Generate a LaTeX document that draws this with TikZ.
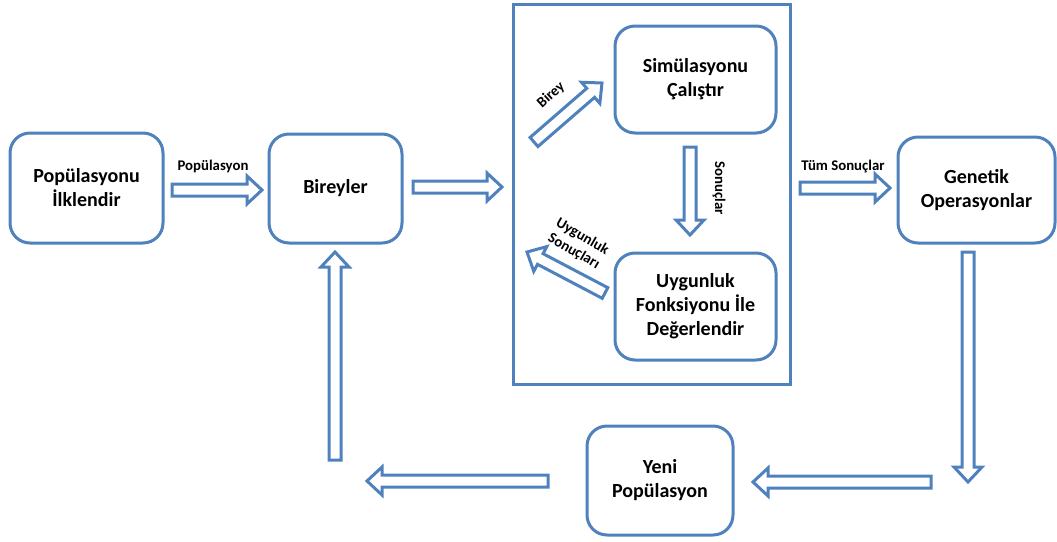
\documentclass[tikz,border=0pt]{standalone}
\usepackage{fontspec}
\setmainfont{Carlito}
\usetikzlibrary{calc}
\definecolor{ofblue}{RGB}{79,129,189}
\tikzset{
  box/.style={draw=ofblue, line width=3pt, rounded corners=20pt, fill=white,
    align=center, font=\fontsize{20}{24}\selectfont\bfseries, inner sep=0pt},
  frame/.style={draw=ofblue, line width=3pt, inner sep=0pt},
  lbl/.style={font=\fontsize{14.8}{17}\selectfont\bfseries, inner sep=0pt, align=center},
  % hollow block arrow from start to target
  hollow/.style={draw=ofblue, line width=3pt, fill=white, line join=miter,
    to path={($(\tikztostart)!6pt!90:(\tikztotarget)$)
      -- ($(\tikztotarget)!15pt!(\tikztostart)!6pt!90:(\tikztotarget)$)
      -- ($(\tikztotarget)!15pt!(\tikztostart)!14pt!90:(\tikztotarget)$)
      -- (\tikztotarget)
      -- ($(\tikztotarget)!15pt!(\tikztostart)!14pt!-90:(\tikztotarget)$)
      -- ($(\tikztotarget)!15pt!(\tikztostart)!6pt!-90:(\tikztotarget)$)
      -- ($(\tikztostart)!6pt!-90:(\tikztotarget)$) -- cycle}}
}
\begin{document}
\begin{tikzpicture}[x=1pt,y=-1pt]
\useasboundingbox (0,0) rectangle (1057,541);

% process boxes
\node[box, minimum width=153, minimum height=110] (init) at (86.5,188) {Popülasyonu\\İlklendir};
\node[box, minimum width=133, minimum height=109] (ind) at (335.5,188.5) {Bireyler};
\node[frame, minimum width=277, minimum height=380] (eval) at (651.5,194) {};
\node[box, minimum width=161, minimum height=107] (sim) at (695.5,79.5) {Simülasyonu\\Çalıştır};
\node[box, minimum width=161, minimum height=107] (fit) at (695.5,306.5) {Uygunluk\\Fonksiyonu İle\\Değerlendir};
\node[box, minimum width=157, minimum height=106] (gen) at (976.5,190) {Genetik\\Operasyonlar};
\node[box, minimum width=146, minimum height=109] (new) at (660,480.5) {Yeni\\Popülasyon};

% arrow end points
\coordinate (a1s) at (172,190);  \coordinate (a1e) at (262,190);
\coordinate (a2s) at (413,187);  \coordinate (a2e) at (502,187);
\coordinate (a3s) at (534,142);  \coordinate (a3e) at (602,83);
\coordinate (a4s) at (690,147);  \coordinate (a4e) at (690,235);
\coordinate (a5s) at (605,293);  \coordinate (a5e) at (527,252);
\coordinate (a6s) at (800,188);  \coordinate (a6e) at (890,188);
\coordinate (a7s) at (968,252);  \coordinate (a7e) at (968,482);
\coordinate (a8s) at (931,482);  \coordinate (a8e) at (753,482);
\coordinate (a9s) at (548,481);  \coordinate (a9e) at (367,481);
\coordinate (a10s) at (335,460); \coordinate (a10e) at (335,252);

\draw[hollow] (a1s) to (a1e);
\draw[hollow] (a2s) to (a2e);
\draw[hollow] (a3s) to (a3e);
\draw[hollow] (a4s) to (a4e);
\draw[hollow] (a5s) to (a5e);
\draw[hollow] (a6s) to (a6e);
\draw[hollow] (a7s) to (a7e);
\draw[hollow] (a8s) to (a8e);
\draw[hollow] (a9s) to (a9e);
\draw[hollow] (a10s) to (a10e);

% arrow labels
\node[lbl] (l1) at (213,166) {Popülasyon};
\node[lbl, rotate=42] (l2) at (551,95) {Birey};
\node[lbl, rotate=-90] (l3) at (719,188) {Sonuçlar};
\node[lbl, rotate=-30] (l4) at (578,244) {Uygunluk\\Sonuçları};
\node[lbl] (l5) at (843,167) {Tüm Sonuçlar};
\end{tikzpicture}
\end{document}
